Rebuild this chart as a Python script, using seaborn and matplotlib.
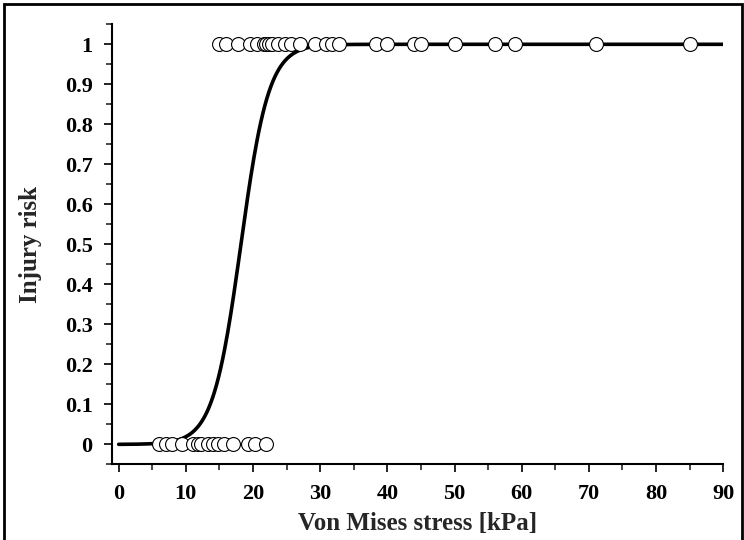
import numpy as np
import pandas as pd
import matplotlib
matplotlib.use("Agg")
import matplotlib.pyplot as plt
import matplotlib.ticker as mticker
from matplotlib.patches import Rectangle
import seaborn as sns

# observed cases: stress [kPa] without injury (0) and with injury (1)
stress_no_injury = [6, 7, 8, 9.5, 11, 11.75, 12.25, 13.25, 14, 14.75, 15.75, 17, 19.25, 20.25, 22]
stress_injury = [15, 16, 17.7, 19.6, 20.6, 21.6, 22, 22.4, 22.9, 23.7, 24.7, 25.6, 27, 29.3,
                 30.8, 31.8, 32.8, 38.3, 40, 44, 45, 50, 56, 59, 71, 85]

# fitted logistic risk curve parameters
curve_slope = 0.48
curve_mid = 18.2

x_ticks = [0, 10, 20, 30, 40, 50, 60, 70, 80, 90]
y_ticks = [0, 0.1, 0.2, 0.3, 0.4, 0.5, 0.6, 0.7, 0.8, 0.9, 1]

pts = pd.DataFrame({
    "stress": stress_no_injury + stress_injury,
    "risk": [0] * len(stress_no_injury) + [1] * len(stress_injury),
})
xs = np.linspace(0, 90, 600)
curve = pd.DataFrame({
    "stress": xs,
    "risk": 1 / (1 + np.exp(-curve_slope * (xs - curve_mid))),
})

sns.set_style("ticks")
plt.rcParams["font.family"] = ["Liberation Serif", "DejaVu Serif"]
plt.rcParams["font.weight"] = "bold"

fig = plt.figure(figsize=(7.44, 5.40), dpi=100)
ax = fig.add_axes([0.1505, 0.140, 0.8215, 0.815])

sns.lineplot(data=curve, x="stress", y="risk", color="black", linewidth=2.6, ax=ax, zorder=2)
sns.scatterplot(data=pts, x="stress", y="risk", s=100, color="white", edgecolor="black",
                linewidth=0.8, ax=ax, zorder=3, clip_on=False)

ax.set_xlim(-1, 90)
ax.set_ylim(-0.05, 1.05)
ax.set_xticks(x_ticks)
ax.set_yticks(y_ticks)
ax.xaxis.set_minor_locator(mticker.MultipleLocator(5))
ax.yaxis.set_minor_locator(mticker.MultipleLocator(0.05))
ax.yaxis.set_major_formatter(mticker.FuncFormatter(lambda v, p: f"{v:g}"))
ax.tick_params(axis="both", which="major", direction="out", length=6, width=1.2,
               labelsize=16, colors="black", pad=8)
ax.tick_params(axis="both", which="minor", direction="out", length=4, width=1.2)
for lab in ax.get_xticklabels() + ax.get_yticklabels():
    lab.set_fontweight("bold")

for side in ["top", "right"]:
    ax.spines[side].set_visible(False)
for side in ["left", "bottom"]:
    ax.spines[side].set_linewidth(1.5)
    ax.spines[side].set_color("black")

ax.set_xlabel("Von Mises stress [kPa]", fontsize=18, fontweight="bold", labelpad=6)
ax.set_ylabel("Injury risk", fontsize=18, fontweight="bold", labelpad=16)

fig.patches.append(Rectangle((0.005, -0.02), 0.992, 1.012, transform=fig.transFigure,
                             fill=False, edgecolor="black", linewidth=2))

fig.savefig("out.png", dpi=100)
